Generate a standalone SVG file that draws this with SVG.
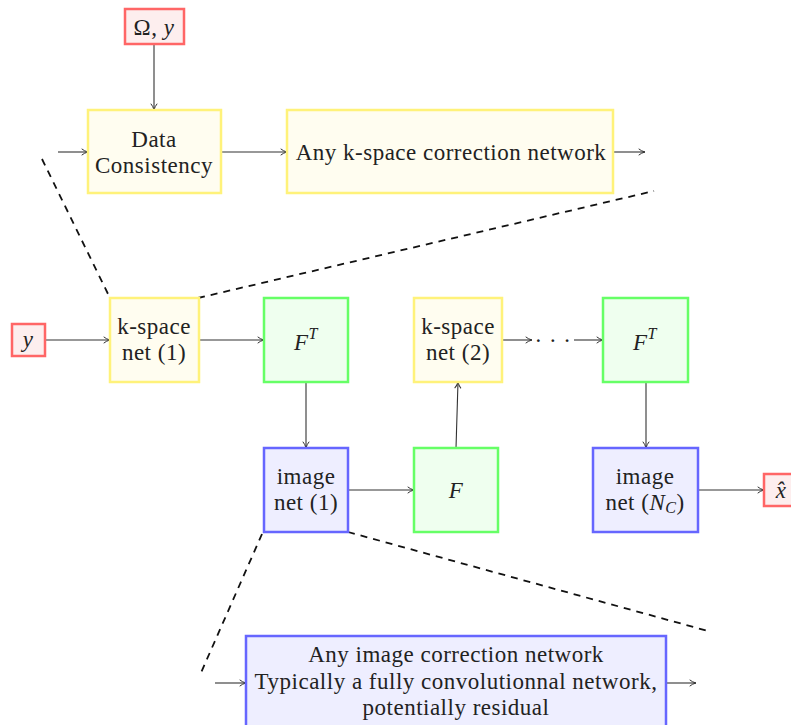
<svg xmlns="http://www.w3.org/2000/svg" width="791" height="725" viewBox="0 0 791 725">
<style>
text{font-family:"Liberation Serif","DejaVu Serif",serif;font-size:23px;letter-spacing:0.5px;fill:#222;text-anchor:middle;dominant-baseline:central}
.m{font-style:italic}
.red{fill:#fdeeee;stroke:#ff6666;stroke-width:2.5}
.yel{fill:#fffdf0;stroke:#fff27a;stroke-width:2.5}
.grn{fill:#efffef;stroke:#66ff66;stroke-width:2.5}
.blu{fill:#eeeeff;stroke:#6666ff;stroke-width:2.5}
.c{stroke:#333;stroke-width:1.1;fill:none;marker-end:url(#a)}
.d{stroke:#111;stroke-width:1.8;fill:none;stroke-dasharray:7 6}
</style>
<defs>
<marker id="a" viewBox="0 0 10 10" refX="9" refY="5" markerWidth="9" markerHeight="9" markerUnits="userSpaceOnUse" orient="auto">
<path d="M2,1.5 Q5,4 9,5 Q5,6 2,8.5" fill="none" stroke="#333" stroke-width="1.1"/>
</marker>
</defs>
<rect width="791" height="725" fill="#fff"/>
<g id="connectors">
<path class="c" d="M154,44 V110"/>
<path class="c" d="M58,152 H88"/>
<path class="c" d="M221,152 H287"/>
<path class="c" d="M613,152 H645"/>
<path class="c" d="M45,340 H110"/>
<path class="c" d="M199,340 H264"/>
<path class="c" d="M306,382 V448"/>
<path class="c" d="M348,490 H414"/>
<path class="c" d="M456,448 L458,382"/>
<path class="c" d="M502,340 H532"/>
<path class="c" d="M574,340 H603"/>
<path class="c" d="M646,382 V448"/>
<path class="c" d="M698,490 H764"/>
<path class="c" d="M215,683 H246"/>
<path class="c" d="M666,683 H696"/>
<path class="d" d="M42,159 L110,298"/>
<path class="d" d="M198,298 L654,191"/>
<path class="d" d="M262,534 L200,675"/>
<path class="d" d="M348,532 L708,631"/>
<text x="553" y="340" letter-spacing="2">· · ·</text>
</g>
<g id="omega_y"><rect class="red" x="125" y="9" width="59" height="35"/><text x="154" y="27">Ω, <tspan class="m">y</tspan></text></g>
<g id="data_consistency"><rect class="yel" x="88" y="110" width="133" height="83"/><text x="154" y="139">Data</text><text x="154" y="165">Consistency</text></g>
<g id="kspace_correction"><rect class="yel" x="287" y="110" width="326" height="83"/><text x="451" y="152">Any k-space correction network</text></g>
<g id="y_in"><rect class="red" x="12" y="324" width="33" height="32"/><text class="m" x="28" y="339">y</text></g>
<g id="kspace1"><rect class="yel" x="110" y="298" width="89" height="84"/><text x="154" y="326">k-space</text><text x="154" y="352">net (1)</text></g>
<g id="FT1"><rect class="grn" x="264" y="298" width="84" height="84"/><text x="306" y="342"><tspan class="m">F</tspan><tspan class="m" font-size="16" dy="-9">T</tspan></text></g>
<g id="image1"><rect class="blu" x="264" y="448" width="84" height="84"/><text x="306" y="476">image</text><text x="306" y="502">net (1)</text></g>
<g id="F"><rect class="grn" x="414" y="448" width="84" height="84"/><text class="m" x="456" y="490">F</text></g>
<g id="kspace2"><rect class="yel" x="414" y="298" width="88" height="84"/><text x="458" y="326">k-space</text><text x="458" y="352">net (2)</text></g>
<g id="FT2"><rect class="grn" x="603" y="298" width="85" height="84"/><text x="645" y="342"><tspan class="m">F</tspan><tspan class="m" font-size="16" dy="-9">T</tspan></text></g>
<g id="imageNC"><rect class="blu" x="593" y="448" width="105" height="84"/><text x="645" y="476">image</text><text x="645" y="502">net (<tspan class="m">N</tspan><tspan class="m" font-size="16" dy="5">C</tspan><tspan dy="-5">)</tspan></text></g>
<g id="xhat"><rect class="red" x="764" y="474" width="40" height="32"/><text class="m" x="781" y="490">x̂</text></g>
<g id="image_correction"><rect class="blu" x="246" y="636" width="420" height="100"/><text x="456" y="654">Any image correction network</text><text x="456" y="681">Typically a fully convolutionnal network,</text><text x="456" y="707">potentially residual</text></g>
</svg>
